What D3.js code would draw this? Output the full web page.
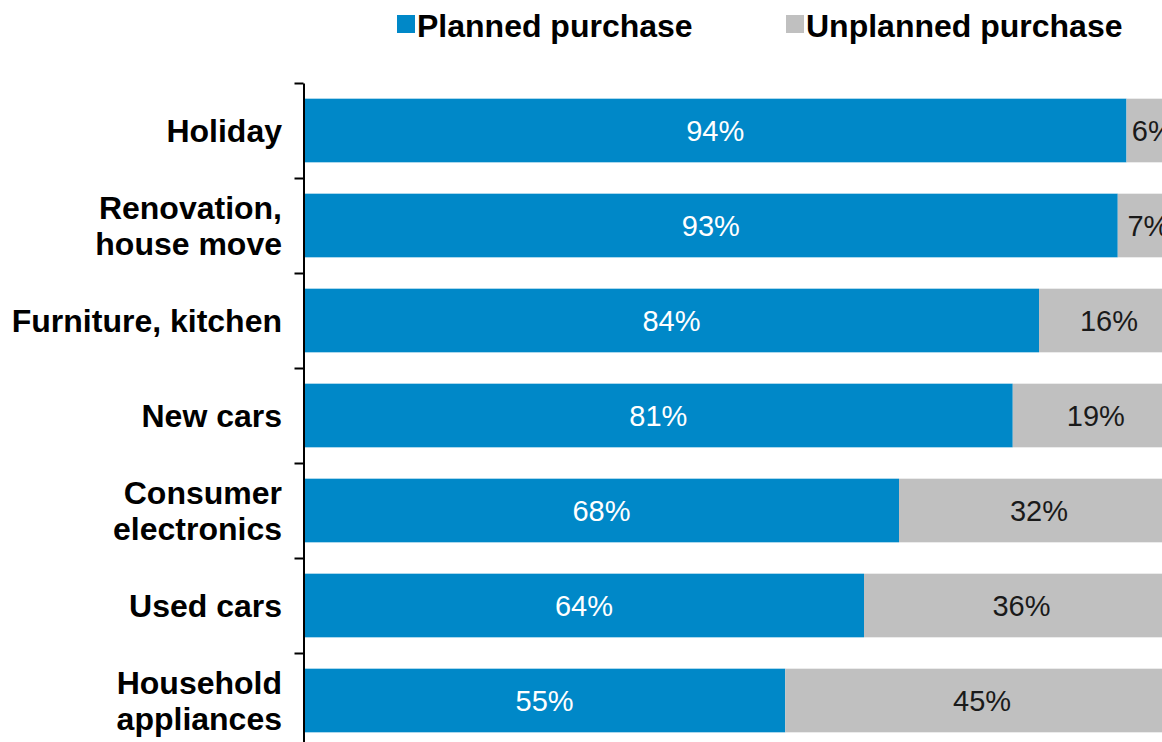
<!DOCTYPE html>
<html>
<head>
<meta charset="utf-8">
<script src="https://cdn.jsdelivr.net/npm/d3@7"></script>
<style>
  html, body { margin: 0; padding: 0; background: #fff; overflow: hidden; }
  svg { display: block; }
</style>
</head>
<body>
<svg id="chart" width="1162" height="742"></svg>
<script>
// Purchase categories, top to bottom; each label may span two lines
const categories = [
  ["Holiday"],
  ["Renovation,", "house move"],
  ["Furniture, kitchen"],
  ["New cars"],
  ["Consumer", "electronics"],
  ["Used cars"],
  ["Household", "appliances"]
];
const planned   = [94, 93, 84, 81, 68, 64, 55];
const unplanned = [6, 7, 16, 19, 32, 36, 45];
const seriesNames = ["Planned purchase", "Unplanned purchase"];
const seriesColors = ["#0088c8", "#c0c0c0"];

const svg = d3.select("#chart");
const font = "'Liberation Sans', Arial, sans-serif";

const keys = categories.map(c => c.join(" "));
const rows = keys.map((k, i) => ({ key: k, planned: planned[i], unplanned: unplanned[i] }));
const stack = d3.stack().keys(["planned", "unplanned"])(rows);

const x = d3.scaleLinear().domain([0, 100]).range([304, 1179]);
const y = d3.scaleBand().domain(keys).range([83, 748]).paddingInner(0.33).paddingOuter(0.165);

// Stacked bars
const layer = svg.append("g").selectAll("g")
  .data(stack).join("g")
  .attr("fill", (d, i) => seriesColors[i]);

layer.selectAll("rect")
  .data(d => d)
  .join("rect")
  .attr("x", d => x(d[0]))
  .attr("width", d => x(d[1]) - x(d[0]))
  .attr("y", d => y(d.data.key))
  .attr("height", y.bandwidth());

// Value labels centred in each segment
layer.each(function(s, i) {
  d3.select(this).selectAll("text")
    .data(s)
    .join("text")
    .attr("x", d => (x(d[0]) + x(d[1])) / 2)
    .attr("y", d => y(d.data.key) + y.bandwidth() / 2)
    .attr("dy", "0.36em")
    .attr("text-anchor", "middle")
    .attr("font-family", font)
    .attr("font-size", 29)
    .attr("fill", i === 0 ? "#ffffff" : "#1a1a1a")
    .text(d => Math.round(d[1] - d[0]) + "%");
});

// Category axis with ticks at the band boundaries
const boundary = d3.scaleLinear().domain([0, categories.length]).range([83, 748]);
const axis = svg.append("g")
  .attr("transform", "translate(303.5,0)")
  .call(d3.axisLeft(boundary).ticks(categories.length).tickSize(9).tickSizeOuter(0).tickFormat(""));
axis.select(".domain").attr("stroke", "#000").attr("stroke-width", 2);
axis.selectAll(".tick line").attr("stroke", "#000").attr("stroke-width", 2);

// Category labels
const lineH = 36;
svg.append("g").selectAll("text")
  .data(categories)
  .join("text")
  .attr("text-anchor", "end")
  .attr("font-family", font)
  .attr("font-weight", "bold")
  .attr("font-size", 32)
  .attr("fill", "#000")
  .each(function(lines, i) {
    const cy = y(keys[i]) + y.bandwidth() / 2;
    const t = d3.select(this);
    lines.forEach((ln, j) => {
      t.append("tspan")
        .attr("x", 282)
        .attr("y", cy + (j - (lines.length - 1) / 2) * lineH)
        .attr("dy", "0.36em")
        .text(ln);
    });
  });

// Legend
const legendX = [397, 786];
const legend = svg.append("g").selectAll("g")
  .data(seriesNames)
  .join("g")
  .attr("transform", (d, i) => `translate(${legendX[i]},0)`);
legend.append("rect")
  .attr("x", 0).attr("y", 15)
  .attr("width", 18).attr("height", 18)
  .attr("fill", (d, i) => seriesColors[i]);
legend.append("text")
  .attr("x", 20).attr("y", 37)
  .attr("font-family", font)
  .attr("font-weight", "bold")
  .attr("font-size", 32)
  .attr("fill", "#000")
  .text(d => d);
</script>
</body>
</html>
